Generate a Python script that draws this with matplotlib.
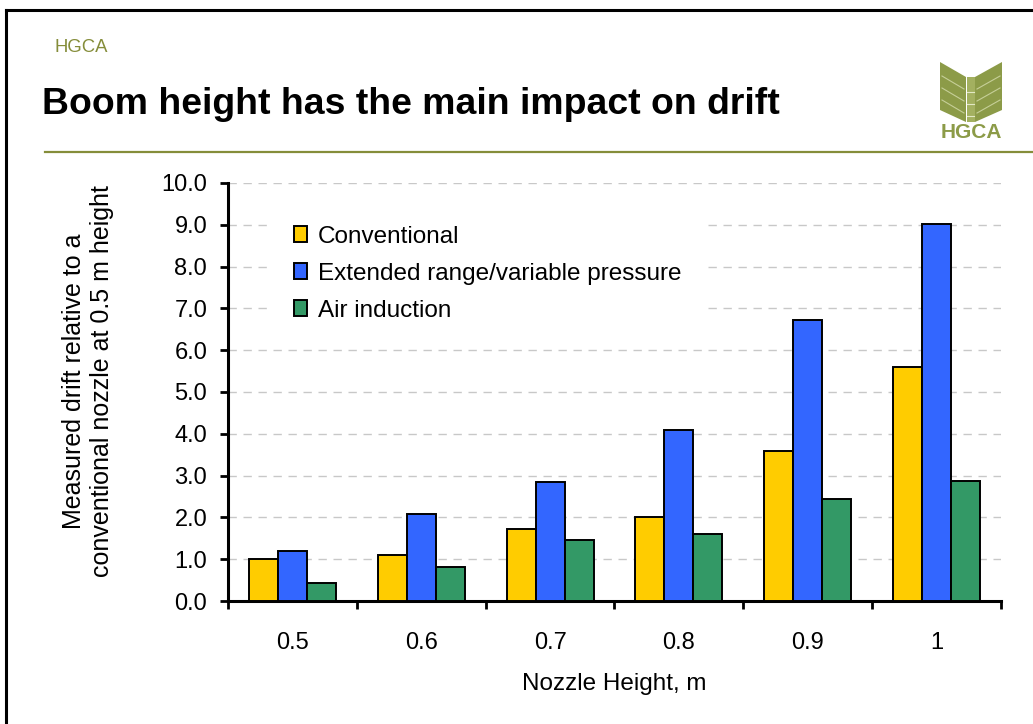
import matplotlib.pyplot as plt
from matplotlib.patches import Polygon, Rectangle
from matplotlib.lines import Line2D
import numpy as np

plt.rcParams['font.family'] = ['Liberation Sans', 'DejaVu Sans']

heights = ['0.5', '0.6', '0.7', '0.8', '0.9', '1']
conventional = [1.0, 1.11, 1.73, 2.02, 3.60, 5.59]
extended = [1.19, 2.07, 2.84, 4.08, 6.73, 9.01]
air_induction = [0.43, 0.81, 1.45, 1.61, 2.45, 2.86]
series_names = ['Conventional', 'Extended range/variable pressure', 'Air induction']
series_colors = ['#FFCC00', '#3366FF', '#339966']

W, H = 1033, 724
OLIVE = '#858D3A'
LOGO = '#8C9B48'


def fx(px):
    return px / W


def fy(py):
    return 1 - py / H


fig = plt.figure(figsize=(W / 100, H / 100), dpi=100)

# slide frame (top and left edges visible)
fig.add_artist(Line2D([fx(6), fx(6)], [fy(10), 0], color='black', lw=2.2))
fig.add_artist(Line2D([fx(6), 1], [fy(10), fy(10)], color='black', lw=2.2))

fig.text(fx(55), fy(48), 'HGCA', color=OLIVE, fontsize=13.3, va='center', ha='left')
fig.text(fx(42), fy(104), 'Boom height has the main impact on drift',
         fontsize=26.9, fontweight='bold', va='center', ha='left')
fig.add_artist(Line2D([fx(45), 1], [fy(152), fy(152)], color=OLIVE, lw=1.6))

# rough HGCA logo
left_wing = [(fx(940), fy(62)), (fx(966), fy(77)), (fx(966), fy(122)), (fx(940), fy(110))]
right_wing = [(fx(975), fy(77)), (fx(1002), fy(62)), (fx(1002), fy(110)), (fx(975), fy(122))]
for pts in (left_wing, right_wing):
    fig.add_artist(Polygon(pts, closed=True, transform=fig.transFigure,
                           facecolor=LOGO, edgecolor='none'))
fig.add_artist(Rectangle((fx(966.5), fy(122)), fx(8), fy(77) - fy(122),
                         transform=fig.transFigure, facecolor='#A3B060', edgecolor='none'))
for off in (14, 26, 38):
    fig.add_artist(Line2D([fx(942), fx(964)], [fy(62 + off), fy(75 + off)],
                          color='#C6CF98', lw=0.8))
    fig.add_artist(Line2D([fx(977), fx(1000)], [fy(75 + off), fy(62 + off)],
                          color='#C6CF98', lw=0.8))
    fig.add_artist(Line2D([fx(967), fx(974)], [fy(78 + off), fy(78 + off)],
                          color='#E2E8C4', lw=0.8))
fig.text(fx(971), fy(132), 'HGCA', color=LOGO, fontsize=15, fontweight='heavy',
         ha='center', va='center')

ax = fig.add_axes([fx(228), fy(601), fx(1001) - fx(228), fy(183) - fy(601)])

x = np.arange(len(heights))
bw = 0.225
for i, (vals, name, col) in enumerate(zip([conventional, extended, air_induction],
                                           series_names, series_colors)):
    ax.bar(x + (i - 1) * bw, vals, bw, color=col, edgecolor='black', linewidth=1.4,
           label=name, zorder=3)

ax.set_xlim(-0.5, len(heights) - 0.5)
ax.set_ylim(0, 10)
ax.set_yticks(np.arange(0, 10.5, 1.0))
ax.set_yticklabels([f'{v:.1f}' for v in np.arange(0, 10.5, 1.0)])
ax.set_xticks(np.arange(-0.5, len(heights), 1.0))
ax.set_xticklabels([])
ax.set_xticks(x, minor=True)
ax.set_xticklabels(heights, minor=True)
ax.tick_params(axis='x', which='major', length=6, width=2, direction='out')
ax.tick_params(axis='x', which='minor', length=0, pad=22, labelsize=17)
ax.tick_params(axis='y', length=6, width=2, direction='out', pad=9, labelsize=17)

for g in np.arange(1, 10.5, 1.0):
    ax.axhline(g, color='#C8C8C8', lw=1.0, dashes=(6, 4.8), zorder=1)

for side in ('top', 'right'):
    ax.spines[side].set_visible(False)
for side in ('left', 'bottom'):
    ax.spines[side].set_linewidth(2.2)

ax.set_xlabel('Nozzle Height, m', fontsize=17.5, labelpad=14)
fig.text(fx(88), fy(381), 'Measured drift relative to a\nconventional nozzle at 0.5 m height',
         rotation=90, fontsize=18, ha='center', va='center', multialignment='center',
         linespacing=1.2)

leg = ax.legend(loc='upper left', bbox_to_anchor=(fx(267), fy(199)),
                bbox_transform=fig.transFigure, fontsize=17.5, frameon=True,
                facecolor='white', edgecolor='none', framealpha=1, fancybox=False,
                borderpad=1.1, borderaxespad=0, handlelength=0.55, handleheight=0.65,
                handletextpad=0.45, labelspacing=0.62)
leg.set_zorder(5)

fig.savefig('out.png', dpi=100)
